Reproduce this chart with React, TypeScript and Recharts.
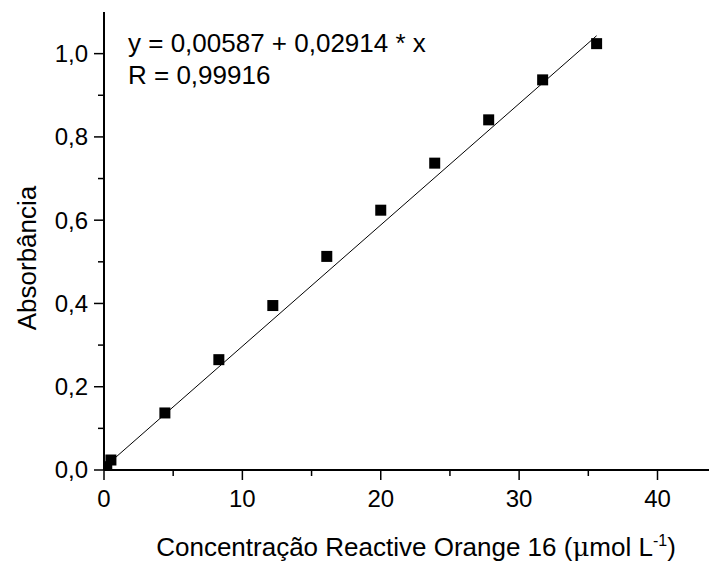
import React from 'react';
import { ComposedChart, Scatter, Line, XAxis, YAxis, Customized } from 'recharts';

const concentration = [0.2, 0.5, 4.4, 8.3, 12.2, 16.1, 20.0, 23.9, 27.8, 31.7, 35.6];
const absorbance = [0.008, 0.024, 0.137, 0.265, 0.395, 0.513, 0.624, 0.737, 0.841, 0.937, 1.024];
const fitX = [0, 35.6];
const fitY = [0.00587, 1.043];
const xTicks = [0, 5, 10, 15, 20, 25, 30, 35, 40];
const xMajor = [0, 10, 20, 30, 40];
const yTicks = [0, 0.1, 0.2, 0.3, 0.4, 0.5, 0.6, 0.7, 0.8, 0.9, 1.0];
const yMajor = [0, 0.2, 0.4, 0.6, 0.8, 1.0];
const equationLines = ['y = 0,00587 + 0,02914 * x', 'R = 0,99916'];
const xTitle = 'Concentração Reactive Orange 16 (';
const yTitle = 'Absorbância';

const points = concentration.map((x, i) => ({ x, y: absorbance[i] }));
const fitLine = fitX.map((x, i) => ({ x, y: fitY[i] }));

const FONT = '"Liberation Sans", Arial, sans-serif';
const W = 709;
const H = 557;
const LEFT = 96;
const TOP = 4;
const XH = 95;

const Square = (props: any) => {
  const { cx, cy } = props;
  return <rect x={cx - 5.5} y={cy - 5.5} width={11} height={11} fill="#000" />;
};

const YTick = (props: any) => {
  const { x, y, payload } = props;
  const v = payload.value;
  const major = yMajor.some((m) => Math.abs(m - v) < 1e-6);
  const len = major ? 10 : 6;
  return (
    <g>
      <line x1={x} x2={x - len} y1={y} y2={y} stroke="#000" strokeWidth={1.5} />
      {major && (
        <text x={x - 16} y={y} dy="0.35em" textAnchor="end" fontFamily={FONT} fontSize={24} fill="#000">
          {v.toFixed(1).replace('.', ',')}
        </text>
      )}
    </g>
  );
};

const XTick = (props: any) => {
  const { x, y, payload } = props;
  const v = payload.value;
  const major = xMajor.includes(v);
  const len = major ? 10 : 6;
  return (
    <g>
      <line x1={x} x2={x} y1={y} y2={y + len} stroke="#000" strokeWidth={1.5} />
      {major && (
        <text x={x} y={y + 29} dy="0.35em" textAnchor="middle" fontFamily={FONT} fontSize={24} fill="#000">
          {String(v)}
        </text>
      )}
    </g>
  );
};

const Annotations = () => (
  <g>
    <text fontFamily={FONT} fontSize={26} fill="#000">
      <tspan x={120} y={44}>{equationLines[0]}</tspan>
      <tspan x={120} y={76}>{equationLines[1]}</tspan>
    </text>
    <text x={408} y={548} textAnchor="middle" fontFamily={FONT} fontSize={26} fill="#000">
      {xTitle}
      <tspan fontFamily='"DejaVu Serif", serif'>μ</tspan>
      mol L
      <tspan dy={-10} fontSize={16}>-1</tspan>
      <tspan dy={10}>)</tspan>
    </text>
    <text
      x={28}
      y={250}
      textAnchor="middle"
      fontFamily={FONT}
      fontSize={26}
      fill="#000"
      transform="rotate(-90 28 250)"
    >
      {yTitle}
    </text>
  </g>
);

export default function App() {
  return (
    <div style={{ width: W, height: H, background: '#fff' }}>
      <ComposedChart width={W} height={H} margin={{ top: TOP, right: 0, left: 0, bottom: 0 }}>
        <XAxis
          xAxisId="b"
          type="number"
          dataKey="x"
          domain={[0, 44.3]}
          ticks={xTicks}
          interval={0}
          tickSize={0}
          tickMargin={0}
          tickLine={false}
          tick={<XTick />}
          height={XH}
          axisLine={{ stroke: '#000', strokeWidth: 2 }}
          allowDataOverflow
        />
        <XAxis
          xAxisId="t"
          orientation="top"
          type="number"
          dataKey="x"
          domain={[0, 44.3]}
          ticks={[]}
          tick={false}
          tickLine={false}
          height={0}
          axisLine={{ stroke: '#000', strokeWidth: 2 }}
          allowDataOverflow
        />
        <YAxis
          type="number"
          dataKey="y"
          domain={[0, 1.1]}
          ticks={yTicks}
          interval={0}
          tickSize={0}
          tickMargin={0}
          tickLine={false}
          tick={<YTick />}
          width={LEFT}
          axisLine={{ stroke: '#000', strokeWidth: 2 }}
          allowDataOverflow
        />
        <Line
          xAxisId="b"
          data={fitLine}
          dataKey="y"
          type="linear"
          stroke="#000"
          strokeWidth={1}
          dot={false}
          isAnimationActive={false}
        />
        <Scatter xAxisId="b" data={points} dataKey="y" shape={<Square />} isAnimationActive={false} />
        <Customized component={Annotations} />
      </ComposedChart>
    </div>
  );
}
